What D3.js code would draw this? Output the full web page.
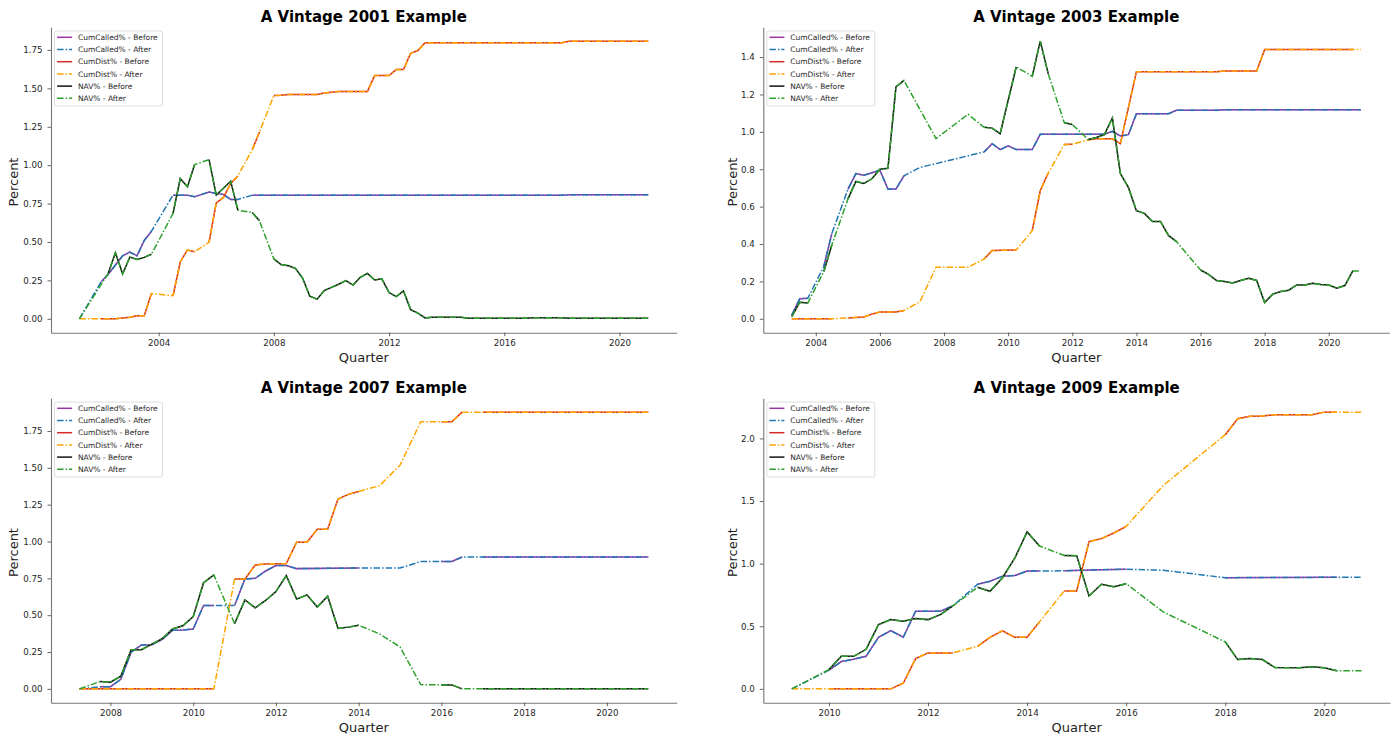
<!DOCTYPE html>
<html><head><meta charset="utf-8">
<script src="https://cdn.jsdelivr.net/npm/d3@7"></script>
<style>
body{margin:0;background:#fff}
svg{display:block}
text{font-family:"DejaVu Sans",sans-serif}
</style>
</head><body>
<svg id="chart" width="1400" height="736"></svg>
<script>
// Each point: [quarter (decimal year), value] ; a third element 1 means the
// "Before" series is missing between the previous point and this one
// (only the interpolated "After" series is present there).

const called2001 = [[2001.25,0],[2002.0,0.24,1],[2002.25,0.29],[2002.5,0.35],[2002.75,0.41],[2003.0,0.435],[2003.25,0.41],[2003.5,0.51],[2003.75,0.57],[2004.5,0.805,1],[2004.75,0.805],[2005.0,0.805],[2005.25,0.795],[2005.5,0.81],[2005.75,0.825],[2006.0,0.815],[2006.25,0.81],[2006.5,0.777],[2006.75,0.777],[2007.25,0.805,1],[2007.5,0.805],[2018.0,0.805],[2018.25,0.808],[2021.0,0.808]];
const dist2001 = [[2001.25,0],[2002.0,0,1],[2002.5,0],[2002.75,0.005],[2003.0,0.01],[2003.25,0.02],[2003.5,0.02],[2003.75,0.165],[2004.5,0.15,1],[2004.75,0.37],[2005.0,0.448],[2005.25,0.437],[2005.75,0.498,1],[2006.0,0.755],[2006.25,0.79],[2006.5,0.88],[2006.75,0.93],[2007.25,1.10,1],[2007.5,1.216],[2008.0,1.453,1],[2008.25,1.455],[2008.5,1.46],[2009.5,1.46],[2009.75,1.47],[2010.0,1.475],[2010.25,1.48],[2011.25,1.48],[2011.5,1.583],[2012.0,1.583],[2012.25,1.622],[2012.5,1.622],[2012.75,1.728],[2013.0,1.746],[2013.25,1.797],[2018.0,1.797],[2018.25,1.807],[2021.0,1.807]];
const nav2001 = [[2001.25,0],[2002.25,0.296,1],[2002.5,0.43],[2002.75,0.292],[2003.0,0.402],[2003.25,0.387],[2003.5,0.40],[2003.75,0.42],[2004.5,0.686,1],[2004.75,0.913],[2005.0,0.859],[2005.25,1.004],[2005.75,1.036,1],[2006.0,0.805],[2006.25,0.85],[2006.5,0.896],[2006.75,0.707],[2007.25,0.692,1],[2007.5,0.638],[2008.0,0.39,1],[2008.25,0.353],[2008.5,0.345],[2008.75,0.329],[2009.0,0.264],[2009.25,0.147],[2009.5,0.128],[2009.75,0.184],[2010.0,0.205],[2010.25,0.225],[2010.5,0.249],[2010.75,0.22],[2011.0,0.27],[2011.25,0.296],[2011.5,0.253],[2011.75,0.26],[2012.0,0.171],[2012.25,0.145],[2012.5,0.182],[2012.75,0.06],[2013.0,0.037],[2013.25,0.006],[2013.5,0.01],[2014.5,0.01],[2014.75,0.004],[2016.75,0.004],[2017.0,0.007],[2018.0,0.007],[2018.25,0.003],[2021.0,0.003]];

const called2003 = [[2003.25,0.02],[2003.5,0.107],[2003.75,0.11],[2004.25,0.28,1],[2004.5,0.456],[2005.0,0.692,1],[2005.25,0.777],[2005.5,0.768],[2005.75,0.781],[2006.0,0.795],[2006.25,0.694],[2006.5,0.694],[2006.75,0.765],[2007.25,0.81,1],[2007.75,0.83,1],[2009.25,0.893,1],[2009.5,0.937],[2009.75,0.905],[2010.0,0.925],[2010.25,0.905],[2010.75,0.905],[2011.0,0.987],[2013.0,0.987],[2013.25,1.003],[2013.5,0.978],[2013.75,0.985],[2014.0,1.097],[2015.0,1.097],[2015.25,1.115],[2016.5,1.115],[2016.75,1.118],[2021.0,1.118]];
const dist2003 = [[2003.25,0],[2004.5,0],[2005.0,0.005,1],[2005.5,0.01],[2005.75,0.025],[2006.0,0.036],[2006.5,0.036],[2006.75,0.044],[2007.25,0.092,1],[2007.75,0.276,1],[2008.75,0.276,1],[2009.25,0.32,1],[2009.5,0.365],[2010.25,0.368],[2010.75,0.471,1],[2011.0,0.685],[2011.25,0.78],[2011.75,0.932,1],[2012.0,0.934],[2012.5,0.958,1],[2012.75,0.963],[2013.25,0.963],[2013.5,0.937],[2014.0,1.322],[2016.5,1.322],[2016.75,1.325],[2017.75,1.325],[2018.0,1.441],[2020.75,1.441],[2021.0,1.441,1]];
const nav2003 = [[2003.25,0.012],[2003.5,0.089],[2003.75,0.084],[2004.25,0.253,1],[2004.5,0.395],[2005.0,0.64,1],[2005.25,0.735],[2005.5,0.724],[2005.75,0.749],[2006.0,0.80],[2006.25,0.805],[2006.5,1.24],[2006.75,1.275],[2007.75,0.964,1],[2008.75,1.094,1],[2009.25,1.024,1],[2009.5,1.02],[2009.75,0.99],[2010.25,1.347],[2010.75,1.297,1],[2011.0,1.485],[2011.25,1.31],[2011.75,1.049,1],[2012.0,1.039],[2012.5,0.959,1],[2012.75,0.97],[2013.0,0.985],[2013.25,1.074],[2013.5,0.777],[2013.75,0.703],[2014.0,0.578],[2014.25,0.564],[2014.5,0.521],[2014.75,0.521],[2015.0,0.446],[2015.25,0.413],[2016.0,0.261,1],[2016.25,0.238],[2016.5,0.205],[2016.75,0.20],[2017.0,0.192],[2017.25,0.205],[2017.5,0.217],[2017.75,0.205],[2018.0,0.087],[2018.25,0.132],[2018.5,0.146],[2018.75,0.153],[2019.0,0.181],[2019.25,0.181],[2019.5,0.19],[2019.75,0.183],[2020.0,0.181],[2020.25,0.164],[2020.5,0.178],[2020.75,0.256],[2021.0,0.256,1]];

const called2007 = [[2007.25,0],[2007.75,0.014,1],[2008.0,0.015],[2008.25,0.065],[2008.5,0.25],[2008.75,0.298],[2009.0,0.30],[2009.25,0.336],[2009.5,0.397],[2009.75,0.40],[2010.0,0.406],[2010.25,0.566],[2010.5,0.566],[2011.0,0.566,1],[2011.25,0.746],[2011.5,0.75],[2011.75,0.80],[2012.0,0.837],[2012.25,0.837],[2012.5,0.816],[2014.0,0.82],[2015.0,0.82,1],[2015.5,0.864,1],[2016.0,0.864,1],[2016.25,0.864],[2016.5,0.895],[2017.0,0.895,1],[2021.0,0.895]];
const dist2007 = [[2007.25,0],[2010.5,0],[2011.0,0.746,1],[2011.25,0.746],[2011.5,0.841],[2011.75,0.848],[2012.25,0.85],[2012.5,0.995],[2012.75,0.995],[2013.0,1.083],[2013.25,1.083],[2013.5,1.288],[2013.75,1.32],[2014.0,1.34],[2014.5,1.378,1],[2015.0,1.518,1],[2015.5,1.813,1],[2016.0,1.813,1],[2016.25,1.813],[2016.5,1.878],[2017.0,1.878,1],[2021.0,1.878]];
const nav2007 = [[2007.25,0],[2007.75,0.05,1],[2008.0,0.045],[2008.25,0.086],[2008.5,0.266],[2008.75,0.266],[2009.0,0.304],[2009.25,0.34],[2009.5,0.406],[2009.75,0.428],[2010.0,0.49],[2010.25,0.72],[2010.5,0.773],[2011.0,0.442,1],[2011.25,0.604],[2011.5,0.55],[2011.75,0.60],[2012.0,0.66],[2012.25,0.769],[2012.5,0.609],[2012.75,0.638],[2013.0,0.555],[2013.25,0.629],[2013.5,0.41],[2013.75,0.419],[2014.0,0.431],[2014.5,0.374,1],[2015.0,0.284,1],[2015.5,0.029,1],[2016.0,0.027,1],[2016.25,0.027],[2016.5,0.0],[2017.0,0.0,1],[2021.0,0.0]];

const called2009 = [[2009.25,0],[2010.0,0.149,1],[2010.25,0.218],[2010.5,0.237],[2010.75,0.26],[2011.0,0.412],[2011.25,0.465],[2011.5,0.412],[2011.75,0.62],[2012.25,0.62],[2012.5,0.662],[2013.0,0.835,1],[2013.25,0.859],[2013.5,0.90],[2013.75,0.905],[2014.0,0.941],[2014.25,0.941],[2014.75,0.943,1],[2015.5,0.952],[2016.0,0.955],[2016.75,0.947,1],[2018.0,0.888,1],[2020.25,0.891],[2020.75,0.891,1]];
const dist2009 = [[2009.25,0],[2010.0,0,1],[2011.25,0],[2011.5,0.045],[2011.75,0.242],[2012.0,0.287],[2012.5,0.287],[2013.0,0.34,1],[2013.25,0.412],[2013.5,0.463],[2013.75,0.412],[2014.0,0.412],[2014.25,0.535],[2014.75,0.782,1],[2015.0,0.782],[2015.25,1.176],[2015.5,1.20],[2015.75,1.245],[2016.0,1.298],[2016.75,1.625,1],[2018.0,2.03,1],[2018.25,2.157],[2018.5,2.178],[2018.75,2.18],[2019.0,2.189],[2019.75,2.19],[2020.0,2.21],[2020.25,2.21],[2020.75,2.21,1]];
const nav2009 = [[2009.25,0],[2010.0,0.154,1],[2010.25,0.26],[2010.5,0.26],[2010.75,0.316],[2011.0,0.513],[2011.25,0.553],[2011.5,0.54],[2011.75,0.561],[2012.0,0.553],[2012.25,0.593],[2012.5,0.662],[2013.0,0.811,1],[2013.25,0.779],[2013.5,0.886],[2013.75,1.043],[2014.0,1.253],[2014.25,1.141],[2014.75,1.065,1],[2015.0,1.064],[2015.25,0.742],[2015.5,0.835],[2015.75,0.816],[2016.0,0.84],[2016.75,0.614,1],[2018.0,0.375,1],[2018.25,0.234],[2018.5,0.242],[2018.75,0.234],[2019.0,0.17],[2019.5,0.168],[2019.75,0.176],[2020.0,0.168],[2020.25,0.144],[2020.75,0.144,1]];

const xTicks2001 = [2004, 2008, 2012, 2016, 2020];
const xTicks2003 = [2004, 2006, 2008, 2010, 2012, 2014, 2016, 2018, 2020];
const xTicks2007 = [2008, 2010, 2012, 2014, 2016, 2018, 2020];
const xTicks2009 = [2010, 2012, 2014, 2016, 2018, 2020];
const yTicks2001 = [0, 0.25, 0.5, 0.75, 1.0, 1.25, 1.5, 1.75];
const yTicks2003 = [0, 0.2, 0.4, 0.6, 0.8, 1.0, 1.2, 1.4];
const yTicks2007 = [0, 0.25, 0.5, 0.75, 1.0, 1.25, 1.5, 1.75];
const yTicks2009 = [0, 0.5, 1.0, 1.5, 2.0];

const seriesNames = ["CumCalled%", "CumDist%", "NAV%"];
const titles = ["A Vintage 2001 Example", "A Vintage 2003 Example", "A Vintage 2007 Example", "A Vintage 2009 Example"];

const beforeColors = ["#9b35a6", "#d62728", "#111111"];
const afterColors  = ["#1f77b4", "#ffa500", "#2ca02c"];

const panels = [
  {title: titles[0], series: [called2001, dist2001, nav2001], xTicks: xTicks2001, yTicks: yTicks2001, yFmt: ".2f", box: [51, 27.3, 676.7, 332.7], ylabX: 17.5},
  {title: titles[1], series: [called2003, dist2003, nav2003], xTicks: xTicks2003, yTicks: yTicks2003, yFmt: ".1f", box: [763.3, 27.3, 1389.3, 332.7], ylabX: 736.5},
  {title: titles[2], series: [called2007, dist2007, nav2007], xTicks: xTicks2007, yTicks: yTicks2007, yFmt: ".2f", box: [51, 398.3, 676.7, 702.7], ylabX: 17.5},
  {title: titles[3], series: [called2009, dist2009, nav2009], xTicks: xTicks2009, yTicks: yTicks2009, yFmt: ".1f", box: [763.3, 398.3, 1390, 702.7], ylabX: 736.5}
];

const svg = d3.select("#chart");
const dash = "6.5,2,1.5,2";
const lw = 1.5;

function padded(ext) {
  const m = (ext[1] - ext[0]) * 0.05;
  return [ext[0] - m, ext[1] + m];
}

panels.forEach(p => {
  const [L, T, R, B] = p.box;
  const all = p.series.flat();
  const x = d3.scaleLinear().domain(padded(d3.extent(all, d => d[0]))).range([L, R]);
  const y = d3.scaleLinear().domain(padded(d3.extent(all, d => d[1]))).range([B, T]);
  const g = svg.append("g");

  const line = d3.line().defined(d => d !== null).x(d => x(d[0])).y(d => y(d[1]));

  p.series.forEach((s, i) => {
    const before = [];
    s.forEach(pt => { if (pt[2]) before.push(null); before.push(pt); });
    g.append("path").datum(before).attr("d", line)
      .attr("fill", "none").attr("stroke", beforeColors[i]).attr("stroke-width", lw);
    g.append("path").datum(s).attr("d", line)
      .attr("fill", "none").attr("stroke", afterColors[i]).attr("stroke-width", lw)
      .attr("stroke-dasharray", dash);
  });

  // axes
  const xa = g.append("g").attr("transform", `translate(0,${B})`)
    .call(d3.axisBottom(x).tickValues(p.xTicks).tickFormat(d3.format("d")).tickSize(3.5).tickSizeOuter(0).tickPadding(3.5));
  const ya = g.append("g").attr("transform", `translate(${L},0)`)
    .call(d3.axisLeft(y).tickValues(p.yTicks).tickFormat(d3.format(p.yFmt)).tickSize(3.5).tickSizeOuter(0).tickPadding(5));
  [xa, ya].forEach(a => {
    a.select(".domain").attr("stroke", "#777").attr("stroke-width", 1.1);
    a.selectAll(".tick line").attr("stroke", "#555").attr("stroke-width", 0.9);
    a.selectAll(".tick text").attr("fill", "#262626").style("font-size", "8.7px").style("font-family", "DejaVu Sans, sans-serif");
  });

  // title
  g.append("text").attr("x", (L + R) / 2).attr("y", T - 5.5)
    .attr("text-anchor", "middle").attr("font-weight", "bold").attr("font-size", 15)
    .attr("fill", "#000").text(p.title);
  // axis labels
  g.append("text").attr("x", (L + R) / 2).attr("y", B + 29)
    .attr("text-anchor", "middle").attr("font-size", 13).attr("fill", "#222").text("Quarter");
  g.append("text").attr("transform", `translate(${p.ylabX},${(T + B) / 2 + 2}) rotate(-90)`)
    .attr("text-anchor", "middle").attr("font-size", 13).attr("fill", "#222").text("Percent");

  // legend
  const lg = g.append("g").attr("transform", `translate(${L + 3.5},${T + 3.7})`);
  lg.append("rect").attr("width", 108).attr("height", 75).attr("rx", 2)
    .attr("fill", "#fff").attr("fill-opacity", 0.85).attr("stroke", "#d4d4d4").attr("stroke-width", 0.8);
  const entries = [];
  seriesNames.forEach((n, i) => {
    entries.push({label: n + " - Before", color: beforeColors[i], dashed: false});
    entries.push({label: n + " - After", color: afterColors[i], dashed: true});
  });
  entries.forEach((e, k) => {
    const yy = 6.3 + k * 12.2;
    lg.append("line").attr("x1", 2.6).attr("x2", 17.6).attr("y1", yy).attr("y2", yy)
      .attr("stroke", e.color).attr("stroke-width", lw)
      .attr("stroke-dasharray", e.dashed ? dash : null);
    lg.append("text").attr("x", 23.4).attr("y", yy + 2.7)
      .attr("font-size", 7.5).attr("fill", "#262626").text(e.label);
  });
});
</script>
</body></html>
